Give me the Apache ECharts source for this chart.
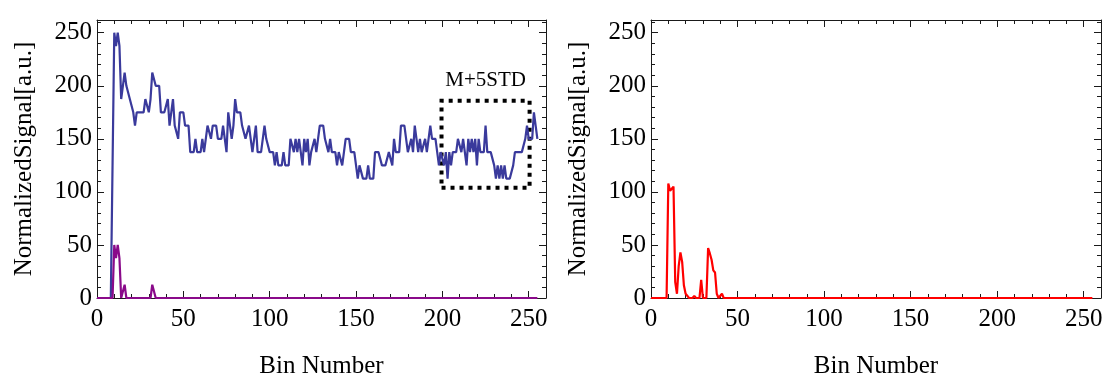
<!DOCTYPE html>
<html>
<head>
<meta charset="utf-8">
<title>Normalized signal</title>
<script src="https://cdn.jsdelivr.net/npm/echarts@6/dist/echarts.min.js"></script>
<style>
html, body { margin: 0; padding: 0; background: #fff; }
#main { width: 1110px; height: 381px; }
</style>
</head>
<body>
<div id="main"></div>
<script>
// left panel, blue trace: one value per bin (0..255)
const blueSignal = [
  0, 0, 0, 0, 0, 0, 0, 0, 0, 0,
  250, 237.5, 250, 237.5, 187.5, 187.5, 212.5, 200, 200, 187.5,
  187.5, 175, 162.5, 175, 175, 175, 175, 175, 187.5, 187.5,
  175, 187.5, 212.5, 212.5, 200, 200, 200, 175, 175, 175,
  175, 187.5, 162.5, 175, 187.5, 162.5, 162.5, 150, 175, 175,
  175, 162.5, 162.5, 162.5, 137.5, 137.5, 137.5, 150, 137.5, 137.5,
  137.5, 150, 137.5, 137.5, 162.5, 162.5, 150, 162.5, 162.5, 162.5,
  150, 150, 150, 162.5, 150, 137.5, 175, 162.5, 150, 162.5,
  187.5, 175, 175, 175, 162.5, 162.5, 150, 150, 162.5, 150,
  137.5, 137.5, 162.5, 137.5, 137.5, 137.5, 137.5, 162.5, 150, 150,
  137.5, 137.5, 137.5, 125, 137.5, 125, 125, 125, 137.5, 125,
  125, 125, 150, 150, 137.5, 150, 137.5, 150, 137.5, 125,
  150, 137.5, 150, 125, 137.5, 137.5, 150, 137.5, 150, 162.5,
  162.5, 162.5, 150, 150, 137.5, 150, 137.5, 137.5, 137.5, 125,
  137.5, 137.5, 125, 137.5, 150, 150, 150, 137.5, 137.5, 137.5,
  125, 112.5, 125, 125, 112.5, 112.5, 112.5, 125, 112.5, 112.5,
  112.5, 137.5, 137.5, 137.5, 137.5, 125, 125, 125, 125, 137.5,
  137.5, 125, 150, 137.5, 137.5, 137.5, 162.5, 162.5, 162.5, 162.5,
  137.5, 137.5, 150, 137.5, 162.5, 150, 137.5, 150, 137.5, 137.5,
  150, 137.5, 137.5, 162.5, 150, 150, 150, 137.5, 125, 137.5,
  137.5, 125, 137.5, 112.5, 137.5, 125, 137.5, 137.5, 137.5, 150,
  150, 137.5, 150, 137.5, 125, 150, 137.5, 150, 137.5, 150,
  125, 150, 137.5, 137.5, 137.5, 162.5, 137.5, 137.5, 137.5, 137.5,
  125, 112.5, 125, 112.5, 125, 112.5, 125, 112.5, 112.5, 112.5,
  112.5, 125, 137.5, 137.5, 137.5, 137.5, 137.5, 137.5, 150, 162.5,
  150, 150, 150, 175, 162.5, 150
]
const blueBins = blueSignal.map((v, i) => [i, v])

// left panel, purple trace: [bin, value], zero between the listed points
const purpleSignal = [
  [0, 0], [9, 0], [10, 50], [11, 37.5], [12, 50], [13, 37.5], [14, 0], [15, 0],
  [16, 12.5], [17, 0], [31, 0], [32, 12.5], [33, 12.5], [34, 0], [255, 0]
]

// right panel, red trace: [bin, value]
const redSignal = [
  [0, 0], [9, 0], [10, 108], [11, 101], [12, 103], [13, 105], [14, 15], [15, 4],
  [16, 30], [17, 43], [18, 34], [19, 12], [20, 4], [21, 4], [22, 0], [24, 0],
  [25, 2], [26, 0], [28, 0], [29, 17], [30, 0], [32, 0], [33, 47], [34, 42],
  [35, 36], [36, 26], [37, 24], [38, 4], [39, 0], [40, 0], [41, 4], [42, 0], [255, 0]
]

// the dotted "M+5STD" window
const boxBins = [199.5, 250.5]
const boxVals = [104, 186]
const boxLabel = 'M+5STD'

const xTitle = 'Bin Number'
const yTitle = 'NormalizedSignal[a.u.]'

const FONT = 'Liberation Serif'
const X_MAX = 260
const Y_MAX = 262
const FRAME = '#1a1a1a'

// fixed frames, v6 would otherwise shrink them to fit the axis names
const grids = [
  { left: 97, top: 20, width: 449, height: 278, outerBoundsMode: 'none', containLabel: false },
  { left: 651, top: 20, width: 450, height: 278, outerBoundsMode: 'none', containLabel: false }
]

// every side of the frame gets a long-tick axis (step 50) and a short-tick axis (step 10)
function makeAxis(dim, g, pos, major) {
  const labelled = major && (pos === 'bottom' || pos === 'left')
  const ax = {
    type: 'value',
    gridIndex: g,
    position: pos,
    min: 0,
    max: dim === 'x' ? X_MAX : Y_MAX,
    interval: major ? 50 : 10,
    splitLine: { show: false },
    axisLine: { show: major, onZero: false, lineStyle: { color: FRAME, width: 1 } },
    axisTick: { show: true, inside: true, length: major ? 7 : 4, lineStyle: { color: FRAME, width: 1 } },
    axisLabel: {
      show: labelled,
      showMaxLabel: false,
      color: '#000',
      fontFamily: FONT,
      fontSize: 25,
      margin: dim === 'x' ? 9 : 5
    }
  }
  if (labelled) {
    ax.name = dim === 'x' ? xTitle : yTitle
    ax.nameLocation = 'middle'
    ax.nameGap = dim === 'x' ? 56 : 60
    ax.nameTextStyle = { color: '#000', fontFamily: FONT, fontSize: 25 }
  }
  return ax
}

const xAxis = []
const yAxis = []
for (let g = 0; g < 2; g++) {
  xAxis.push(makeAxis('x', g, 'bottom', true), makeAxis('x', g, 'bottom', false),
             makeAxis('x', g, 'top', true), makeAxis('x', g, 'top', false))
  yAxis.push(makeAxis('y', g, 'left', true), makeAxis('y', g, 'left', false),
             makeAxis('y', g, 'right', true), makeAxis('y', g, 'right', false))
}

const option = {
  animation: false,
  backgroundColor: '#fff',
  grid: grids,
  xAxis: xAxis,
  yAxis: yAxis,
  series: [
    {
      name: 'signal',
      type: 'line',
      xAxisIndex: 0,
      yAxisIndex: 0,
      data: blueBins,
      showSymbol: false,
      clip: false,
      lineStyle: { color: '#3a3a9c', width: 2.2 },
      markArea: {
        silent: true,
        itemStyle: { color: 'rgba(0,0,0,0)', borderColor: '#000', borderWidth: 4, borderType: [4, 5] },
        label: { show: true, position: 'top', formatter: boxLabel, color: '#000', fontFamily: FONT, fontSize: 21, distance: 8 },
        data: [[{ xAxis: boxBins[0], yAxis: boxVals[0] }, { xAxis: boxBins[1], yAxis: boxVals[1] }]]
      }
    },
    {
      name: 'purple',
      type: 'line',
      xAxisIndex: 0,
      yAxisIndex: 0,
      data: purpleSignal,
      showSymbol: false,
      clip: false,
      lineStyle: { color: '#8a0a8a', width: 2.2 }
    },
    {
      name: 'red',
      type: 'line',
      xAxisIndex: 4,
      yAxisIndex: 4,
      data: redSignal,
      showSymbol: false,
      clip: false,
      lineStyle: { color: '#ff0000', width: 2.2 }
    }
  ]
}

const chart = echarts.init(document.getElementById('main'), null, { renderer: 'canvas' })
chart.setOption(option)
</script>
</body>
</html>
